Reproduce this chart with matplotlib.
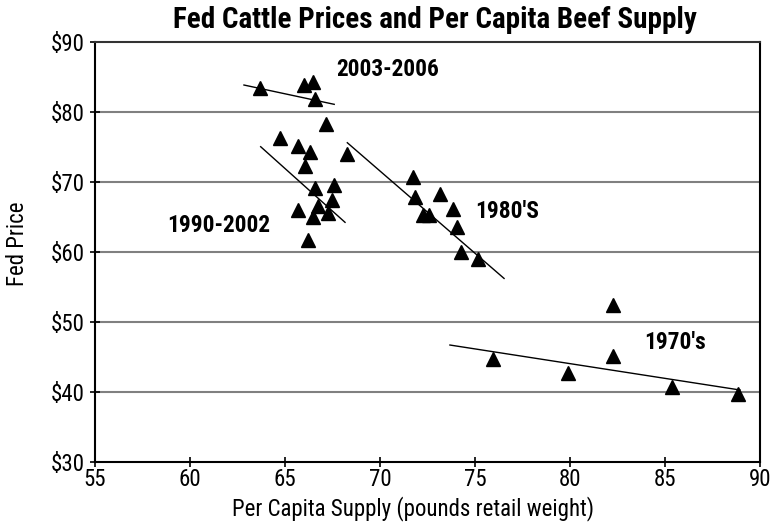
import matplotlib
matplotlib.use("Agg")
import matplotlib.pyplot as plt
from matplotlib import font_manager

names = {f.name for f in font_manager.fontManager.ttflist}
FAM = "Roboto Condensed" if "Roboto Condensed" in names else "Liberation Sans"
plt.rcParams['font.family'] = [FAM, 'DejaVu Sans']

# Data (pounds retail weight, fed price $)
x_2003 = [63.68, 66.00, 66.49, 66.58]
y_2003 = [83.38, 83.85, 84.33, 81.81]

x_1990 = [67.14, 64.74, 65.67, 66.32, 66.05, 68.25, 66.58, 67.59, 67.46, 66.72, 65.70, 67.28, 66.49, 66.23]
y_1990 = [78.28, 76.23, 75.17, 74.32, 72.27, 73.95, 69.17, 69.56, 67.41, 66.56, 65.99, 65.60, 64.94, 61.70]

x_1980 = [71.75, 71.84, 73.16, 72.28, 72.59, 73.83, 74.04, 74.26, 75.14]
y_1980 = [70.74, 67.88, 68.27, 65.27, 65.27, 66.08, 63.60, 60.02, 58.93]

x_1970 = [82.25, 75.96, 79.88, 82.25, 85.35, 88.83]
y_1970 = [52.40, 44.64, 42.64, 45.11, 40.64, 39.68]

# Trend line endpoints
trend_2003_x = [62.84, 67.59]
trend_2003_y = [83.85, 81.09]
trend_1990_x = [63.72, 68.16]
trend_1990_y = [75.03, 64.22]
trend_1980_x = [68.28, 76.53]
trend_1980_y = [75.60, 56.20]
trend_1970_x = [73.68, 88.95]
trend_1970_y = [46.68, 40.25]

group_labels = ["2003-2006", "1990-2002", "1980'S", "1970's"]

x_ticks = [55, 60, 65, 70, 75, 80, 85, 90]
y_ticks = [30, 40, 50, 60, 70, 80, 90]
y_ticklabels = ["$30", "$40", "$50", "$60", "$70", "$80", "$90"]

fig = plt.figure(figsize=(7.7, 5.22), dpi=100)
ax = fig.add_axes([95/770, 1-461.7/522, (760-95)/770, (461.7-42)/522])

for yv in y_ticks[1:-1]:
    ax.axhline(yv, color="#808080", lw=1.5, zorder=1)

for tx, ty in [(trend_2003_x, trend_2003_y), (trend_1990_x, trend_1990_y),
               (trend_1980_x, trend_1980_y), (trend_1970_x, trend_1970_y)]:
    ax.plot(tx, ty, color="black", lw=1.0, zorder=2)

for gx, gy in [(x_2003, y_2003), (x_1990, y_1990), (x_1980, y_1980), (x_1970, y_1970)]:
    ax.plot(gx, gy, linestyle="none", marker="^", markersize=10.5,
            color="black", zorder=3)

ax.set_xlim(55, 90)
ax.set_ylim(30, 90)
ax.set_xticks(x_ticks)
ax.set_xticklabels([str(v) for v in x_ticks])
ax.set_yticks(y_ticks)
ax.set_yticklabels(y_ticklabels)
ax.tick_params(axis="both", direction="inout", length=7, width=1.2, labelsize=16.5, pad=1)
ax.tick_params(axis="y", pad=4)
for s in ax.spines.values():
    s.set_linewidth(1.5)
    s.set_color("black")
ax.spines["top"].set_color("#333333")

label_pos = [(70.42, 86.0), (61.53, 63.7), (76.68, 65.72), (85.53, 46.97)]
for lab, (lx, ly) in zip(group_labels, label_pos):
    ax.text(lx, ly, lab, ha="center", va="center", fontsize=16.8, fontweight="bold")

fig.text(435/770, 1-20/522, "Fed Cattle Prices and Per Capita Beef Supply",
         ha="center", va="center", fontsize=21, fontweight="bold")
fig.text(413/770, 1-509/522, "Per Capita Supply (pounds retail weight)",
         ha="center", va="center", fontsize=16.5)
fig.text(17/770, 1-244/522, "Fed Price", ha="center", va="center",
         rotation=90, fontsize=16.5)

fig.savefig("out.png", dpi=100)
